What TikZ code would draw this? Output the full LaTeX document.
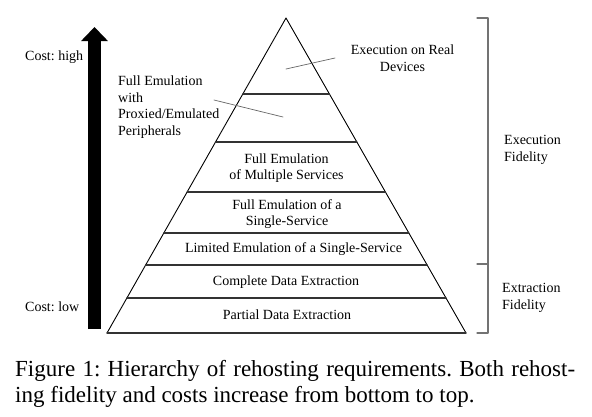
\documentclass[tikz,border=0pt]{standalone}
\usepackage{fontspec}
\setmainfont{Liberation Serif}
\usetikzlibrary{calc,arrows.meta}
\frenchspacing

\begin{document}
\begin{tikzpicture}[x=1pt, y=-1pt, line cap=round, line join=round,
    lbl/.style={font=\fontsize{14}{16.5}\selectfont, inner sep=0pt, align=center},
    level/.style={line width=1.1pt, black!80},
    leader/.style={line width=0.7pt, black!60},
    brace/.style={line width=1.1pt, black!55}]
  \useasboundingbox (0,0) rectangle (592,416);

  % Pyramid outline
  \coordinate (apex) at (286, 18);
  \coordinate (BL) at (107, 333);
  \coordinate (BR) at (466, 333);
  \draw[line width=0.9pt] (BL) -- (apex) -- (BR);
  \draw[level] (BL) -- (BR);

  % Level lines: fraction = (y - 18)/315
  \foreach \f/\n in {0.2413/1, 0.3937/2, 0.5524/3, 0.6825/4, 0.7841/5, 0.8889/6} {
    \coordinate (L\n) at ($(apex)!\f!(BL)$);
    \coordinate (R\n) at ($(apex)!\f!(BR)$);
    \draw[level] (L\n) -- (R\n);
  }

  % Layer labels
  \node[lbl] (partial) at (287, 315) {Partial Data Extraction};
  \node[lbl] (complete) at (286, 282) {Complete Data Extraction};
  \node[lbl] (limited) at (293.5, 249) {Limited Emulation of a Single-Service};
  \node[lbl] (single) at (287, 214) {Full Emulation of a\\Single-Service};
  \node[lbl] (multiple) at (286.5, 168) {Full Emulation\\of Multiple Services};

  % Top two layers labelled outside
  \node[lbl] (real) at (402.5, 58) {Execution on Real\\Devices};
  \node[lbl, align=left, anchor=west] (proxied) at (118, 107)
    {Full Emulation\\with\\Proxied/Emulated\\Peripherals};
  \coordinate (realA) at (286, 69);
  \coordinate (realB) at (335, 58);
  \draw[leader] (realA) -- (realB);
  \coordinate (proxA) at (214, 100);
  \coordinate (proxB) at (283, 117);
  \draw[leader] (proxA) -- (proxB);

  % Cost arrow
  \coordinate (low) at (94.5, 329);
  \coordinate (high) at (94.5, 27);
  \draw[line width=13pt, line cap=butt, -{Triangle[width=26pt, length=14pt]}] (low) -- (high);
  \node[lbl, anchor=west] (costhigh) at (25, 57) {Cost: high};
  \node[lbl, anchor=west] (costlow) at (25, 307) {Cost: low};

  % Fidelity brackets
  \draw[brace] (477, 18) -- (488, 18) -- (488, 333) -- (477, 333);
  \draw[brace] (477, 264) -- (488, 264);
  \node[lbl, align=left, anchor=west] (execfid) at (504, 150) {Execution\\Fidelity};
  \node[lbl, align=left, anchor=west] (extrfid) at (502, 298) {Extraction\\Fidelity};

  % Caption
  \node[inner sep=0pt, anchor=base west, font=\fontsize{23}{25}\selectfont] (cap1) at (15, 376)
    {\makebox[560pt][s]{Figure 1: Hierarchy of rehosting requirements. Both rehost-}};
  \node[inner sep=0pt, anchor=base west, font=\fontsize{23}{25}\selectfont] (cap2) at (15, 402)
    {ing fidelity and costs increase from bottom to top.};
\end{tikzpicture}
\end{document}
